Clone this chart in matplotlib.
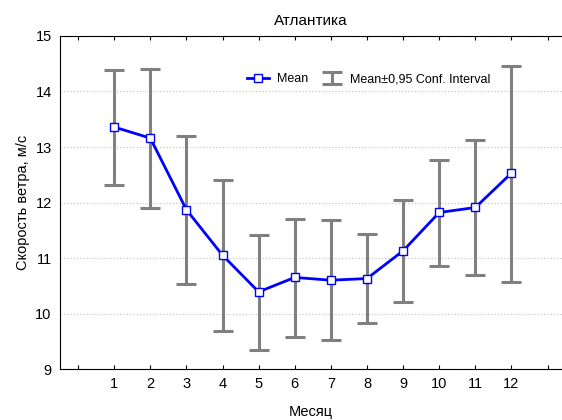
import matplotlib.pyplot as plt
import numpy as np

plt.rcParams['font.family'] = ['Liberation Sans', 'DejaVu Sans']

months = np.arange(1, 13)
mean = [13.36, 13.16, 11.87, 11.05, 10.39, 10.65, 10.60, 10.63, 11.13, 11.82, 11.91, 12.53]
upper = [14.39, 14.41, 13.19, 12.40, 11.41, 11.70, 11.68, 11.43, 12.05, 12.77, 13.12, 14.46]
lower = [12.32, 11.90, 10.53, 9.69, 9.34, 9.58, 9.52, 9.82, 10.20, 10.86, 10.69, 10.56]

mean = np.array(mean)
yerr = [mean - np.array(lower), np.array(upper) - mean]

fig = plt.figure(figsize=(5.62, 4.2), dpi=100)
ax = fig.add_axes([0.1068, 0.1214, 0.8932, 0.7929])

ax.grid(axis='y', color='#c8c8c8', linestyle=':', linewidth=0.9)
ax.set_axisbelow(True)

ax.errorbar(months, mean, yerr=yerr, fmt='none', ecolor='#808080',
            elinewidth=2.2, capsize=7.2, capthick=2.2,
            label='Mean±0,95 Conf. Interval', zorder=2)
ax.plot(months, mean, color='#0000ff', linewidth=2, marker='s',
        markersize=6, markerfacecolor='white', markeredgecolor='#0000ff',
        markeredgewidth=1, label='Mean', zorder=3)

ax.set_xlim(-0.5, 13.4)
ax.set_ylim(9, 15)
ax.set_xticks(np.arange(0, 14))
ax.set_xticklabels([''] + [str(m) for m in months] + [''])
ax.set_yticks(np.arange(9, 16))
ax.tick_params(axis='x', direction='in', length=3, top=True, labelsize=10.5, pad=6)
ax.tick_params(axis='y', length=0, labelsize=10.5, pad=6)
ax.spines['right'].set_visible(False)

ax.set_title('Атлантика', fontsize=11, pad=8, x=0.5)
ax.set_xlabel('Месяц', fontsize=10.5, labelpad=10, x=0.5)
ax.set_ylabel('Скорость ветра, м/с', fontsize=10.5, labelpad=4)

ax.legend(loc='center', bbox_to_anchor=(0.615, 0.87), ncol=2, frameon=False,
          fontsize=9, handlelength=1.8, columnspacing=1.0, handletextpad=0.6)

plt.savefig('out.png', dpi=100)
